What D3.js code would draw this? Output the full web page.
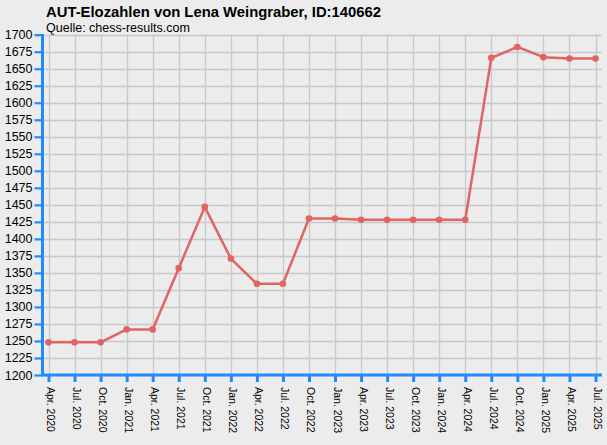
<!DOCTYPE html>
<html><head><meta charset="utf-8">
<script src="https://cdn.jsdelivr.net/npm/d3@7"></script>
<style>
html,body{margin:0;padding:0;background:#ECECEC;}
svg{display:block;}
</style></head>
<body>
<svg id="c" width="607" height="445"></svg>
<script>
const categories = ["Apr. 2020","Jul. 2020","Oct. 2020","Jan. 2021","Apr. 2021","Jul. 2021","Oct. 2021","Jan. 2022","Apr. 2022","Jul. 2022","Oct. 2022","Jan. 2023","Apr. 2023","Jul. 2023","Oct. 2023","Jan. 2024","Apr. 2024","Jul. 2024","Oct. 2024","Jan. 2025","Apr. 2025","Jul. 2025"];
const elo = [1248,1248,1248,1267,1267,1357,1447,1371,1334,1334,1430,1430,1428,1428,1428,1428,1428,1666,1682,1667,1665,1665];
const yTicks = [1200,1225,1250,1275,1300,1325,1350,1375,1400,1425,1450,1475,1500,1525,1550,1575,1600,1625,1650,1675,1700];
const title = "AUT-Elozahlen von Lena Weingraber, ID:140662";
const subtitle = "Quelle: chess-results.com";

const svg = d3.select("#c");
const axisColor = "#1E8CFF";
const gridColor = "#C8C8C8";
const lineColor = "#E06464";
const font = "'Liberation Sans', Arial, sans-serif";

const x = d3.scalePoint().domain(categories).range([48.5, 595.5]);
const y = d3.scaleLinear().domain([1200, 1700]).range([375, 34.7]);
const plotLeft = 42.5, plotRight = 602;

// title
svg.append("text").attr("x", 46).attr("y", 16.5).text(title)
  .attr("font-family", font).attr("font-weight", "bold").attr("font-size", 15).attr("fill", "#000")
  .attr("textLength", 335).attr("lengthAdjust", "spacingAndGlyphs");
svg.append("text").attr("x", 46).attr("y", 31.5).text(subtitle)
  .attr("font-family", font).attr("font-size", 12.5).attr("fill", "#000");

// grid
const grid = svg.append("g");
grid.selectAll("line.h").data(yTicks).join("line")
  .attr("x1", plotLeft).attr("x2", plotRight)
  .attr("y1", d => Math.round(y(d)) + 0.5).attr("y2", d => Math.round(y(d)) + 0.5)
  .attr("stroke", gridColor).attr("stroke-width", 1.3);
grid.selectAll("line.v").data(categories).join("line")
  .attr("x1", d => Math.round(x(d)) + 0.5).attr("x2", d => Math.round(x(d)) + 0.5)
  .attr("y1", 34.7).attr("y2", 375)
  .attr("stroke", gridColor).attr("stroke-width", 1.3);

// y axis
const yAxis = svg.append("g").attr("transform", `translate(${plotLeft},0)`)
  .call(d3.axisLeft(y).tickValues(yTicks).tickSize(8).tickPadding(2).tickFormat(d3.format("d")));
yAxis.select(".domain").attr("stroke", axisColor).attr("stroke-width", 3).attr("d", "M0,34 V376");
yAxis.selectAll(".tick line").attr("stroke", axisColor).attr("stroke-width", 2.2);
yAxis.selectAll(".tick text").attr("font-family", font).attr("font-size", 12.5).attr("fill", "#000");

// x axis
const xAxis = svg.append("g").attr("transform", `translate(0,375)`)
  .call(d3.axisBottom(x).tickSize(7).tickPadding(0));
xAxis.select(".domain").attr("stroke", axisColor).attr("stroke-width", 3).attr("d", `M${plotLeft - 1.5},0 H${plotRight}`);
xAxis.selectAll(".tick line").attr("stroke", axisColor).attr("stroke-width", 3);
xAxis.selectAll(".tick text")
  .attr("font-family", font).attr("font-size", 10.5).attr("fill", "#000")
  .attr("text-anchor", "start").attr("dy", null)
  .attr("transform", "translate(-2,12) rotate(90)")
  .attr("x", 0).attr("y", 0);

// line
const line = d3.line().x((d, i) => x(categories[i])).y(d => y(d));
svg.append("path").datum(elo).attr("d", line)
  .attr("fill", "none").attr("stroke", lineColor).attr("stroke-width", 2.5).attr("stroke-linejoin", "round");
svg.selectAll("circle.pt").data(elo).join("circle")
  .attr("cx", (d, i) => x(categories[i])).attr("cy", d => y(d)).attr("r", 3.3)
  .attr("fill", lineColor);
</script>
</body></html>
